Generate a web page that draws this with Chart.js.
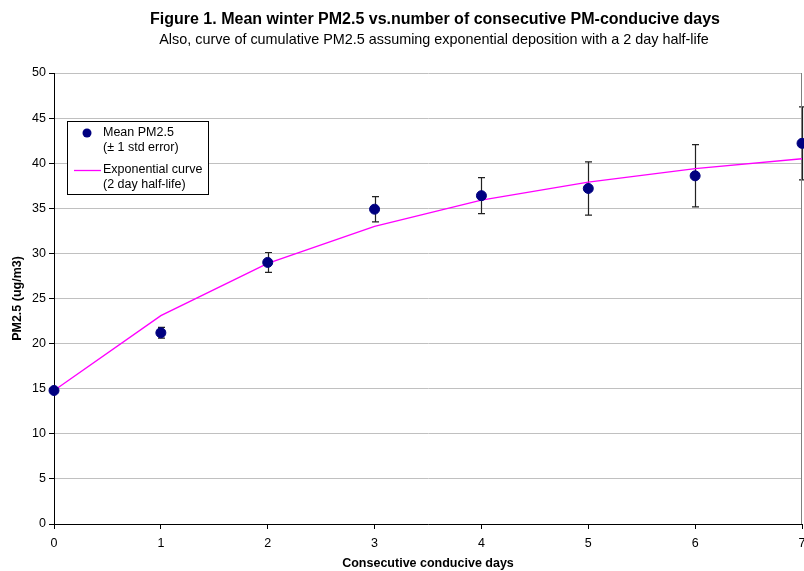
<!DOCTYPE html>
<html>
<head>
<meta charset="utf-8">
<script src="https://cdn.jsdelivr.net/npm/chart.js@4.4.1/dist/chart.umd.min.js"></script>
<style>
  html, body { margin: 0; padding: 0; background: #fff; }
  #wrap { width: 804px; height: 571px; }
</style>
</head>
<body>
<div id="wrap"><canvas id="pmChart" width="804" height="571"></canvas></div>
<script>
// values
const days = [0, 1, 2, 3, 4, 5, 6, 7];
const meanPM = [14.8, 21.2, 29.0, 34.9, 36.4, 37.2, 38.6, 42.2];
const stdErr = [0.0, 0.6, 1.1, 1.4, 2.0, 2.95, 3.45, 4.05];
const expCurve = [14.8, 23.1, 28.9, 33.0, 35.9, 37.9, 39.4, 40.5];
const yTicks = [0, 5, 10, 15, 20, 25, 30, 35, 40, 45, 50];

const FONT = "Arial, 'Liberation Sans', sans-serif";
const PLOT_RIGHT = 802;

// error bars, plot frame, titles and legend box
const extras = {
    id: 'extras',
    afterLayout(chart) {
        // points overflow makes chart.js keep a margin on the right; the original plot runs to the edge
        const xs = chart.scales.x;
        const a = chart.chartArea;
        a.right = PLOT_RIGHT;
        a.width = a.right - a.left;
        xs.right = PLOT_RIGHT;
        xs.width = xs.right - xs.left;
        xs.configure();
    },
    beforeDatasetsDraw(chart) {
        const ctx = chart.ctx;
        const xs = chart.scales.x, ys = chart.scales.y;
        ctx.save();
        ctx.strokeStyle = '#222';
        ctx.lineWidth = 1.2;
        days.forEach((d, i) => {
            if (!stdErr[i]) return;
            const px = Math.round(xs.getPixelForValue(d)) + 0.5;
            const top = ys.getPixelForValue(meanPM[i] + stdErr[i]);
            const bot = ys.getPixelForValue(meanPM[i] - stdErr[i]);
            ctx.beginPath();
            ctx.moveTo(px, top); ctx.lineTo(px, bot);
            ctx.moveTo(px - 3.5, top); ctx.lineTo(px + 3.5, top);
            ctx.moveTo(px - 3.5, bot); ctx.lineTo(px + 3.5, bot);
            ctx.stroke();
        });
        // right edge of plot
        const a = chart.chartArea;
        ctx.strokeStyle = '#808080';
        ctx.lineWidth = 1;
        ctx.beginPath();
        ctx.moveTo(a.right - 0.5, a.top);
        ctx.lineTo(a.right - 0.5, a.bottom);
        ctx.stroke();
        ctx.restore();
    },
    afterDraw(chart) {
        const ctx = chart.ctx;
        ctx.save();
        ctx.fillStyle = '#000';
        ctx.textAlign = 'center';
        ctx.textBaseline = 'middle';
        ctx.font = 'bold 16px ' + FONT;
        ctx.fillText('Figure 1. Mean winter PM2.5 vs.number of consecutive PM-conducive days', 435, 20);
        ctx.font = '14.4px ' + FONT;
        ctx.fillText('Also, curve of cumulative PM2.5 assuming exponential deposition with a 2 day half-life', 434, 40);

        // legend
        ctx.fillStyle = '#fff';
        ctx.fillRect(67, 121, 141, 73);
        ctx.strokeStyle = '#000';
        ctx.lineWidth = 1;
        ctx.strokeRect(67.5, 121.5, 141, 73);
        ctx.fillStyle = '#000080';
        ctx.beginPath();
        ctx.arc(87, 133, 4.5, 0, Math.PI * 2);
        ctx.fill();
        ctx.strokeStyle = '#ff00ff';
        ctx.lineWidth = 1.3;
        ctx.beginPath();
        ctx.moveTo(74, 170.5);
        ctx.lineTo(101, 170.5);
        ctx.stroke();
        ctx.fillStyle = '#000';
        ctx.textAlign = 'left';
        ctx.font = '12.5px ' + FONT;
        ctx.fillText('Mean PM2.5', 103, 133);
        ctx.fillText('(\u00b1 1 std error)', 103, 148);
        ctx.fillText('Exponential curve', 103, 170);
        ctx.fillText('(2 day half-life)', 103, 185);
        ctx.restore();
    }
};

new Chart(document.getElementById('pmChart').getContext('2d'), {
    type: 'scatter',
    data: {
        datasets: [{
            label: 'Mean PM2.5 (\u00b1 1 std error)',
            data: days.map((d, i) => ({ x: d, y: meanPM[i] })),
            backgroundColor: '#000080',
            borderColor: '#000080',
            pointRadius: 5,
            pointHoverRadius: 5,
            clip: false,
            order: 1
        }, {
            label: 'Exponential curve (2 day half-life)',
            type: 'line',
            data: days.map((d, i) => ({ x: d, y: expCurve[i] })),
            borderColor: '#ff00ff',
            borderWidth: 1.4,
            pointRadius: 0,
            fill: false,
            tension: 0,
            order: 2
        }]
    },
    options: {
        responsive: false,
        animation: false,
        layout: { padding: { top: 73, right: 2, left: 0, bottom: 0 } },
        plugins: {
            legend: { display: false },
            tooltip: { enabled: false }
        },
        scales: {
            x: {
                type: 'linear',
                min: 0,
                max: 7,
                afterFit(scale) {
                    scale.height = 47;
                    scale.paddingLeft = 0;
                    scale.paddingRight = 0;
                },
                ticks: {
                    stepSize: 1,
                    color: '#000',
                    padding: 7,
                    font: { family: FONT, size: 12.5 }
                },
                grid: {
                    drawOnChartArea: false,
                    tickLength: 5,
                    tickColor: '#000'
                },
                border: { color: '#000', width: 1 },
                title: {
                    display: true,
                    text: 'Consecutive conducive days',
                    color: '#000',
                    font: { family: FONT, size: 12.5, weight: 'bold' },
                    padding: { top: 4, bottom: 0 }
                }
            },
            y: {
                min: 0,
                max: 50,
                afterFit(scale) { scale.width = 54; },
                afterBuildTicks(scale) { scale.ticks = yTicks.map(v => ({ value: v })); },
                ticks: {
                    color: '#000',
                    padding: 3,
                    font: { family: FONT, size: 12.5 }
                },
                grid: {
                    color: '#c0c0c0',
                    tickColor: '#000',
                    tickLength: 5
                },
                border: { color: '#000', width: 1 },
                title: {
                    display: true,
                    text: 'PM2.5 (ug/m3)',
                    color: '#000',
                    font: { family: FONT, size: 12.5, weight: 'bold' },
                    padding: { top: 10, bottom: 0 }
                }
            }
        }
    },
    plugins: [extras]
});
</script>
</body>
</html>
